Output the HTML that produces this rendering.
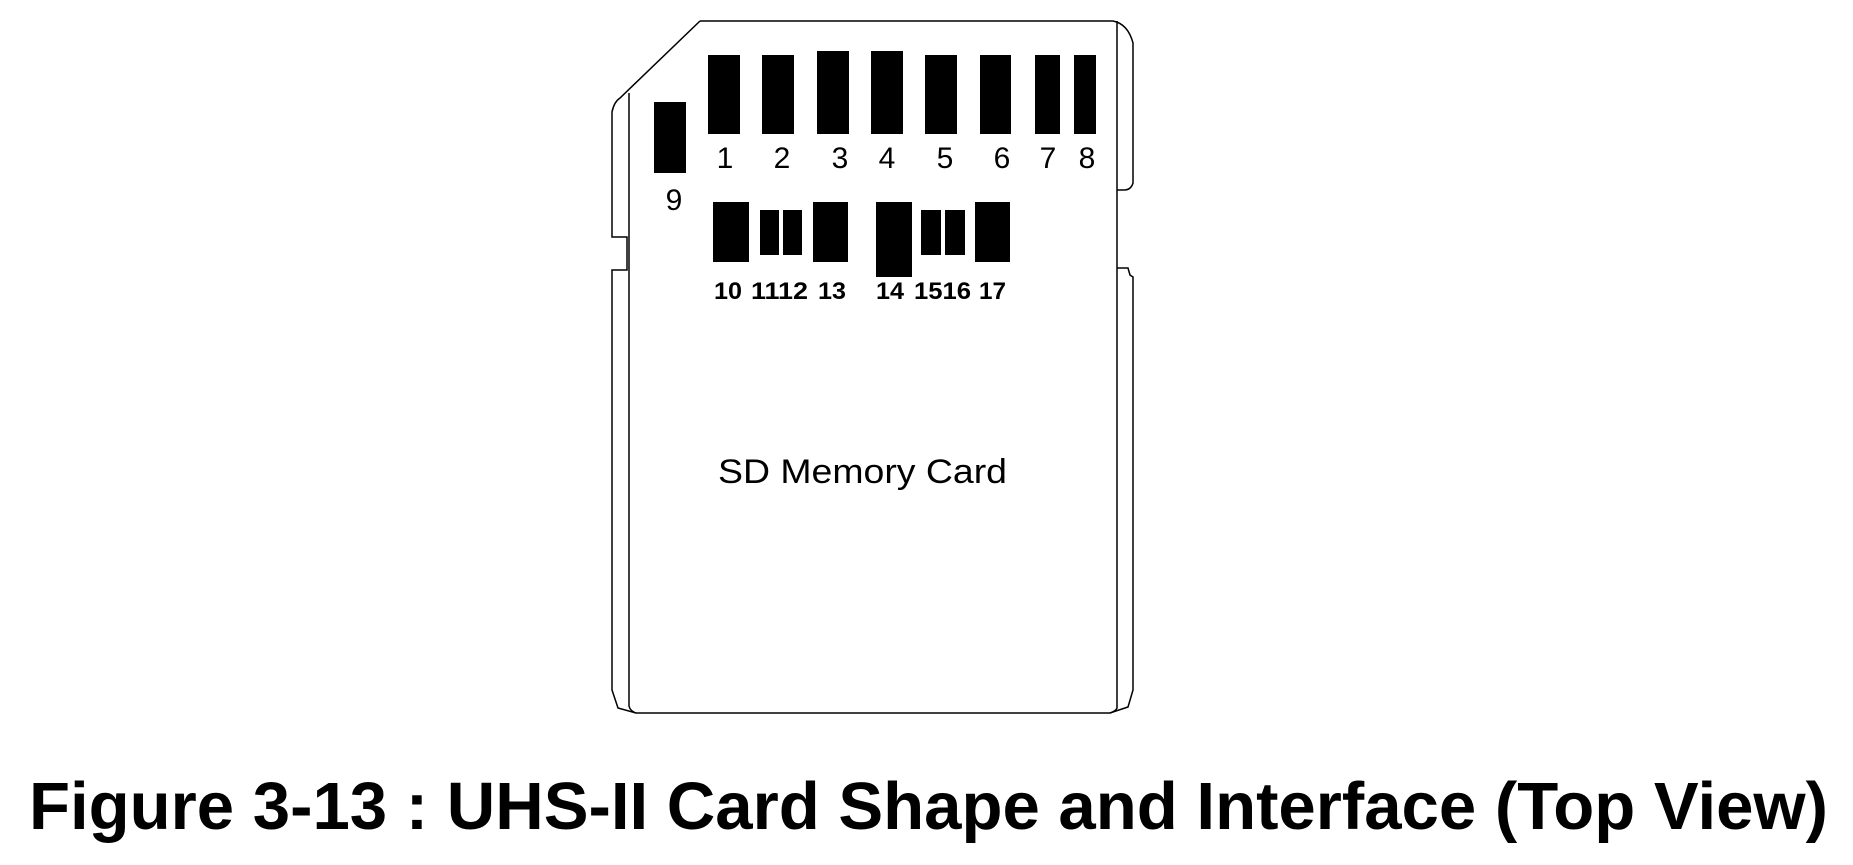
<!DOCTYPE html>
<html><head><meta charset="utf-8"><style>html,body{margin:0;padding:0;background:#fff;}svg{display:block}</style></head>
<body>
<svg width="1853" height="865" viewBox="0 0 1853 865" xmlns="http://www.w3.org/2000/svg">
<g fill="none" stroke="#000" stroke-width="1.5">
<path d="M700,21 L1113,21 Q1128,24 1133,43 L1133,183 Q1131,190 1124,190 L1117,190"/>
<path d="M1117,268 L1128,268 L1130,275 L1133,277 L1133,690 L1128,707 L1110,713 L636,713 L618,708 L612,690 L612,270 L627,270 L627,237 L612,237 L612,112 Q614,102 620,98 L700,21"/>
<path d="M629,93 L629,706 Q630,711 636,713"/>
<path d="M1117,21 L1117,708 Q1116,711 1110,713"/>
</g>
<g fill="#000">
<rect x="708" y="55" width="32" height="79"/>
<rect x="762" y="55" width="32" height="79"/>
<rect x="817" y="51" width="32" height="83"/>
<rect x="871" y="51" width="32" height="83"/>
<rect x="925" y="55" width="32" height="79"/>
<rect x="980" y="55" width="31" height="79"/>
<rect x="1035" y="55" width="25" height="79"/>
<rect x="1074" y="55" width="22" height="79"/>
<rect x="654" y="102" width="32" height="71"/>
<rect x="713" y="202" width="36" height="60"/>
<rect x="760" y="210" width="19" height="45"/>
<rect x="783" y="210" width="19" height="45"/>
<rect x="813" y="202" width="35" height="60"/>
<rect x="876" y="202" width="36" height="75"/>
<rect x="921" y="210" width="20" height="45"/>
<rect x="945" y="210" width="20" height="45"/>
<rect x="975" y="202" width="35" height="60"/>
</g>
<g font-family="Liberation Sans, sans-serif" font-size="30" text-anchor="middle" fill="#000">
<text x="725" y="168">1</text><text x="782" y="168">2</text><text x="840" y="168">3</text><text x="887" y="168">4</text>
<text x="945" y="168">5</text><text x="1002" y="168">6</text><text x="1048" y="168">7</text><text x="1087" y="168">8</text>
<text x="674" y="210">9</text>
</g>
<g font-family="Liberation Sans, sans-serif" font-size="24" font-weight="bold" fill="#000">
<text x="714" y="299" textLength="28" lengthAdjust="spacingAndGlyphs">10</text>
<text x="751" y="299" textLength="57" lengthAdjust="spacingAndGlyphs">1112</text>
<text x="818" y="299" textLength="28" lengthAdjust="spacingAndGlyphs">13</text>
<text x="876" y="299" textLength="28" lengthAdjust="spacingAndGlyphs">14</text>
<text x="914" y="299" textLength="57" lengthAdjust="spacingAndGlyphs">1516</text>
<text x="979" y="299" textLength="27" lengthAdjust="spacingAndGlyphs">17</text>
</g>
<text x="718" y="483" font-family="Liberation Sans, sans-serif" font-size="34" textLength="289" lengthAdjust="spacingAndGlyphs">SD Memory Card</text>
<text x="29" y="829" font-family="Liberation Sans, sans-serif" font-size="67" font-weight="bold" textLength="1799" lengthAdjust="spacingAndGlyphs">Figure 3-13 : UHS-II Card Shape and Interface (Top View)</text>
</svg>
</body></html>
